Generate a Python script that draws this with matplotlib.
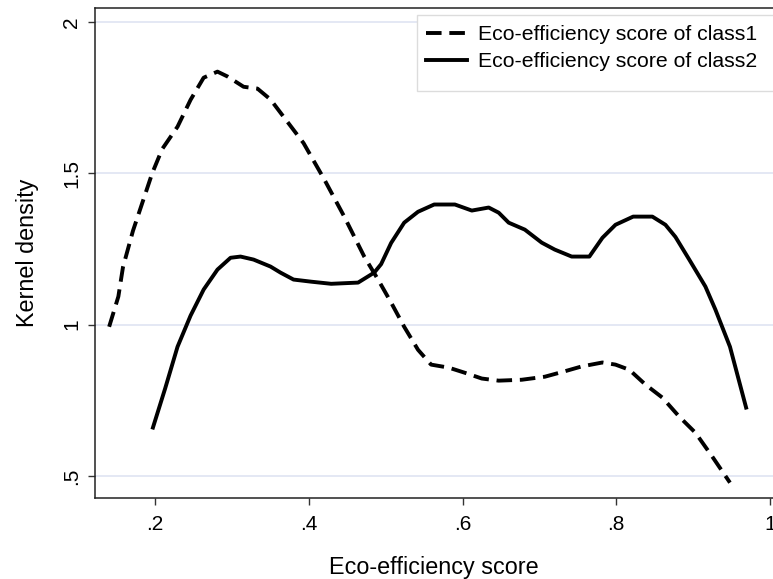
import matplotlib as mpl
from matplotlib import pyplot as plt
from matplotlib.patches import Rectangle

mpl.rcParams['font.family'] = ['Liberation Sans', 'DejaVu Sans']

# Kernel density, class 1
x1 = [0.140, 0.152, 0.158, 0.171, 0.196, 0.209, 0.229, 0.246, 0.263, 0.281,
      0.294, 0.315, 0.333, 0.350, 0.367, 0.393, 0.420, 0.446, 0.472, 0.490,
      0.507, 0.524, 0.542, 0.559, 0.582, 0.603, 0.625, 0.647, 0.677, 0.707,
      0.733, 0.755, 0.782, 0.799, 0.817, 0.838, 0.860, 0.882, 0.903, 0.925,
      0.948]
y1 = [0.993, 1.093, 1.190, 1.310, 1.500, 1.580, 1.654, 1.743, 1.816, 1.836,
      1.820, 1.786, 1.780, 1.744, 1.687, 1.600, 1.480, 1.357, 1.225, 1.149,
      1.073, 0.993, 0.917, 0.868, 0.858, 0.841, 0.822, 0.815, 0.818, 0.828,
      0.846, 0.862, 0.875, 0.868, 0.851, 0.802, 0.759, 0.696, 0.643, 0.564,
      0.478]

# Kernel density, class 2
x2 = [0.197, 0.213, 0.229, 0.246, 0.263, 0.281, 0.298, 0.311, 0.328, 0.350,
      0.363, 0.380, 0.403, 0.429, 0.464, 0.485, 0.494, 0.507, 0.524, 0.542,
      0.563, 0.590, 0.612, 0.634, 0.647, 0.660, 0.681, 0.703, 0.720, 0.742,
      0.765, 0.782, 0.799, 0.822, 0.847, 0.864, 0.877, 0.895, 0.916, 0.929,
      0.948, 0.969]
y2 = [0.660, 0.790, 0.927, 1.030, 1.116, 1.182, 1.221, 1.225, 1.215, 1.192,
      1.172, 1.149, 1.142, 1.135, 1.139, 1.172, 1.200, 1.270, 1.337, 1.373,
      1.397, 1.397, 1.377, 1.387, 1.370, 1.337, 1.314, 1.271, 1.248, 1.225,
      1.225, 1.287, 1.330, 1.357, 1.357, 1.330, 1.290, 1.215, 1.126, 1.050,
      0.927, 0.726]

xticks = [0.2, 0.4, 0.6, 0.8, 1.0]
xtick_labels = ['.2', '.4', '.6', '.8', '1']
yticks = [0.5, 1.0, 1.5, 2.0]
ytick_labels = ['.5', '1', '1.5', '2']
labels = ['Eco-efficiency score of class1', 'Eco-efficiency score of class2']

fig = plt.figure(figsize=(7.73, 5.79), dpi=100)
ax = fig.add_axes([0.1229, 0.1399, 0.8771, 0.8463])

ax.plot(x1, y1, color='black', lw=2.8, dashes=(4, 2), label=labels[0])
ax.plot(x2, y2, color='black', lw=2.8, label=labels[1])

ax.set_xlim(0.1216, 1.004)
ax.set_ylim(0.4273, 2.0463)
ax.set_xticks(xticks)
ax.set_xticklabels(xtick_labels)
ax.set_yticks(yticks)
ax.set_yticklabels(ytick_labels, rotation=90, va='center')
ax.grid(True, axis='y', color='#dfe4f2', lw=1.2)
ax.set_axisbelow(True)
ax.tick_params(length=5, width=1, color='#333333', labelsize=15, pad=7)
ax.tick_params(axis='y', pad=5)

for s in ['left', 'bottom', 'top']:
    ax.spines[s].set_color('#222222')
    ax.spines[s].set_linewidth(1.1)
ax.spines['right'].set_visible(False)

ax.set_xlabel('Eco-efficiency score', fontsize=16.8, labelpad=16)
ax.set_ylabel('Kernel density', fontsize=16.8, labelpad=17)

# legend box, open to the right edge like the original
box = Rectangle((417 / 773, 1 - 91 / 579), 0.5, 76 / 579,
                transform=fig.transFigure, facecolor='white',
                edgecolor='#dcdcdc', lw=1, zorder=4, clip_on=False)
ax.add_patch(box)
leg = ax.legend(loc='upper left', bbox_to_anchor=(424 / 773, 1 - 23 / 579),
                bbox_transform=fig.transFigure, frameon=False, fontsize=15.3,
                handlelength=1.9, handletextpad=0.55, labelspacing=0.38,
                borderaxespad=0, borderpad=0.1)
leg.set_zorder(5)

plt.savefig('out.png', dpi=100)
